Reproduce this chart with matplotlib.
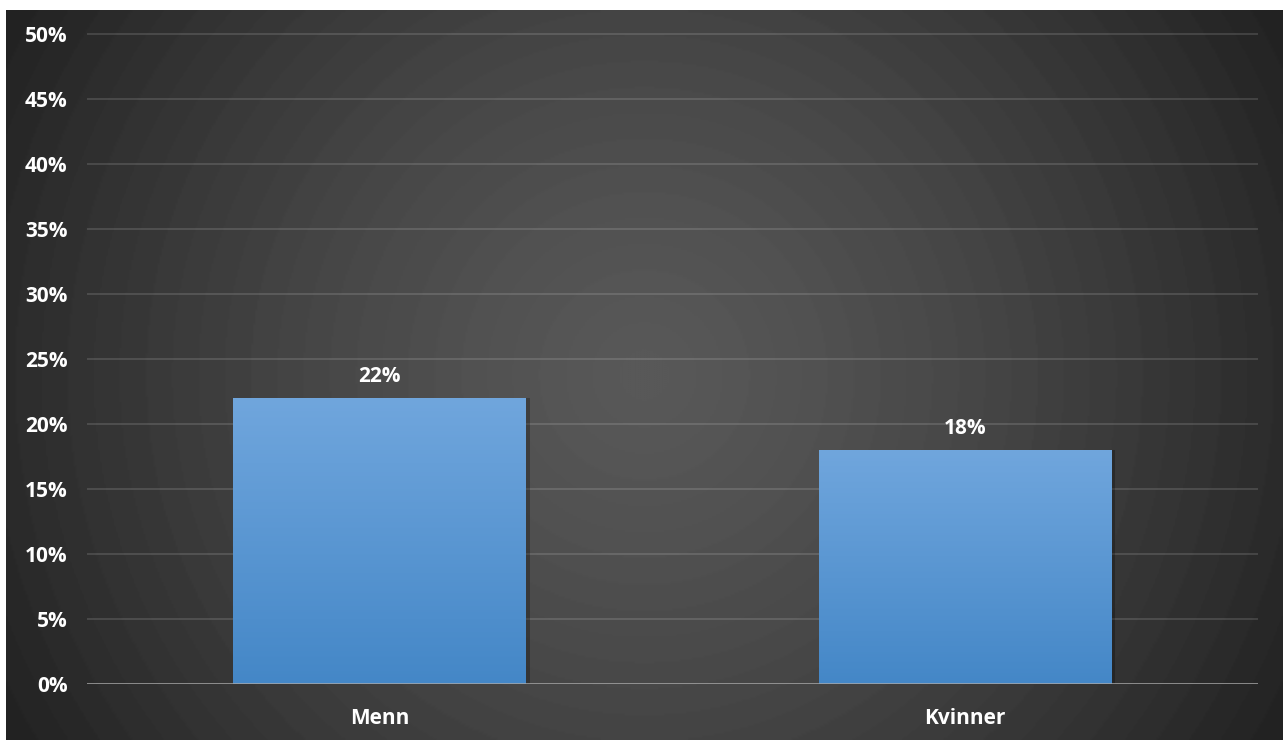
import numpy as np
import matplotlib
matplotlib.use("Agg")
import matplotlib.pyplot as plt
from matplotlib.colors import LinearSegmentedColormap
from matplotlib.patches import Rectangle

# Share of respondents by gender
categories = ["Menn", "Kvinner"]
values = [22, 18]  # percent
y_ticks = [0, 5, 10, 15, 20, 25, 30, 35, 40, 45, 50]

W, H, DPI = 1283, 740, 100
fig = plt.figure(figsize=(W / DPI, H / DPI), dpi=DPI, facecolor="white")

# Dark radial-gradient backdrop (stepped rings)
bg = fig.add_axes([6 / W, 0, (W - 6) / W, (H - 10) / H])
bg.set_axis_off()
nx, ny = 640, 365
xx, yy = np.meshgrid(np.linspace(-1, 1, nx), np.linspace(-1, 1, ny))
r = np.sqrt((xx * (W - 6) / 2) ** 2 + (yy * (H - 10) / 2) ** 2)
r = r / r.max()
r = np.floor(r * 28) / 28
c0, c1 = 0x58 / 255, 0x20 / 255
shade = c0 + (c1 - c0) * r ** 1.35
img = np.dstack([shade, shade, shade])
bg.imshow(img, aspect="auto", extent=[0, 1, 0, 1], interpolation="bilinear")
bg.set_xlim(0, 1)
bg.set_ylim(0, 1)

# Main plot area
px_per_unit = 65 / 5
ymax = 52
bottom_px = H - 684
ax_h = ymax * px_per_unit
ax = fig.add_axes([87 / W, bottom_px / H, (1258 - 87) / W, ax_h / H])
ax.patch.set_alpha(0)
ax.set_xlim(-0.5, len(categories) - 0.5)
ax.set_ylim(0, ymax)

for s in ax.spines.values():
    s.set_visible(False)

for t in y_ticks[1:]:
    ax.axhline(t, color="white", alpha=0.13, lw=1.5, zorder=1)

font = ["Open Sans", "DejaVu Sans"]
bar_w = 0.5
grad = LinearSegmentedColormap.from_list("bar", ["#4487c7", "#70a6dd"])
x = np.arange(len(categories))
for xi, v in zip(x, values):
    # soft shadow on the right edge
    ax.add_patch(Rectangle((xi - bar_w / 2 + 0.006, 0), bar_w, v,
                           facecolor="black", alpha=0.25, lw=0, zorder=2))
    rect = Rectangle((xi - bar_w / 2, 0), bar_w, v, facecolor="none", lw=0, zorder=3)
    ax.add_patch(rect)
    im = ax.imshow(np.linspace(0, 1, 256).reshape(-1, 1), cmap=grad, origin="lower",
                   extent=[xi - bar_w / 2, xi + bar_w / 2, 0, v], aspect="auto", zorder=3)
    im.set_clip_path(rect)
    ax.text(xi, v + 1.65, f"{v}%", ha="center", va="center", color="white",
            fontsize=15, fontweight="bold", family=font, zorder=5)

ax.axhline(0, color="#a8a8a8", lw=1.8, zorder=4)

ax.set_yticks(y_ticks)
ax.set_yticklabels([f"{t}%" for t in y_ticks])
ax.set_xticks(x)
ax.set_xticklabels(categories)
ax.tick_params(axis="y", length=0, pad=14, colors="white", labelsize=15)
ax.tick_params(axis="x", length=0, pad=17, colors="white", labelsize=15)
for lab in ax.get_yticklabels() + ax.get_xticklabels():
    lab.set_fontweight("bold")
    lab.set_family(font)

fig.savefig("out.png", dpi=DPI, facecolor="white")
